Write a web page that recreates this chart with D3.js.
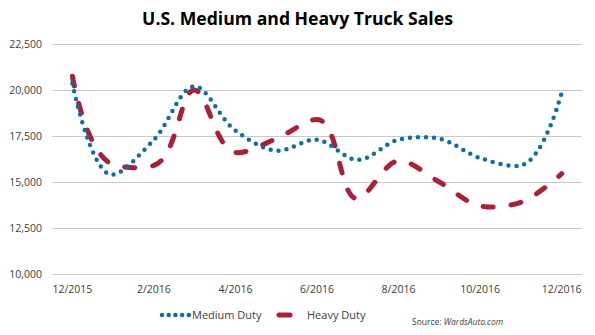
<!DOCTYPE html>
<html>
<head>
<meta charset="utf-8">
<script src="https://cdn.jsdelivr.net/npm/d3@7"></script>
<style>
  html, body { margin: 0; padding: 0; background: #fff; }
  svg { display: block; font-family: "Open Sans", "Liberation Sans", sans-serif; }
</style>
</head>
<body>
<svg id="chart" width="595" height="335"></svg>
<script>
// Monthly unit sales, 12/2015 through 12/2016
const months = ["12/2015", "1/2016", "2/2016", "3/2016", "4/2016", "5/2016", "6/2016",
                "7/2016", "8/2016", "9/2016", "10/2016", "11/2016", "12/2016"];
const mediumDuty = [20350, 15400, 17300, 20200, 17800, 16700, 17300,
                    16200, 17300, 17350, 16300, 15900, 19850];
const heavyDuty  = [20750, 15950, 15900, 20000, 16600, 17350, 18400,
                    14100, 16150, 15000, 13700, 13900, 15450];
const xTickLabels = ["12/2015", "2/2016", "4/2016", "6/2016", "8/2016", "10/2016", "12/2016"];
const yTicks = [10000, 12500, 15000, 17500, 20000, 22500];

const svg = d3.select("#chart");
const plot = { left: 52, right: 582, top: 44, bottom: 274 };

const x = d3.scaleBand().domain(months).range([plot.left, plot.right]);
const cx = m => x(m) + x.bandwidth() / 2;
const y = d3.scaleLinear().domain([10000, 22500]).range([plot.bottom, plot.top]);

// Title, sized to span its measured width
const title = svg.append("text")
  .attr("x", 297.5).attr("y", 25)
  .attr("text-anchor", "middle")
  .attr("font-weight", "bold")
  .attr("font-size", 20)
  .attr("fill", "#000")
  .text("U.S. Medium and Heavy Truck Sales");
const tw = title.node().getComputedTextLength();
title.attr("font-size", 20 * 311 / tw);

// Horizontal gridlines and y-axis labels
const yAxis = d3.axisLeft(y)
  .tickValues(yTicks)
  .tickSize(-(plot.right - plot.left))
  .tickPadding(10)
  .tickFormat(d3.format(","));
const gy = svg.append("g").attr("transform", `translate(${plot.left},0)`).call(yAxis);
gy.select(".domain").remove();
gy.selectAll(".tick line").attr("stroke", "#c9c9c9").attr("stroke-width", 1);
gy.selectAll(".tick text")
  .attr("fill", "#404040")
  .attr("font-size", 10.5)
  .attr("font-family", "'Open Sans', sans-serif");

// Category axis labels (every other month)
const xAxis = d3.axisBottom(x)
  .tickValues(xTickLabels)
  .tickSize(0)
  .tickPadding(12);
const gx = svg.append("g").attr("transform", `translate(0,${plot.bottom})`).call(xAxis);
gx.select(".domain").remove();
gx.selectAll(".tick text")
  .attr("fill", "#404040")
  .attr("font-size", 10.5)
  .attr("font-family", "'Open Sans', sans-serif");

const blue = "#0b6fa4";
const red = "#ad1f36";

// Chordal Catmull-Rom keeps the smoothing tight on flat stretches
const line = d3.line()
  .x((d, i) => cx(months[i]))
  .y(d => y(d))
  .curve(d3.curveCatmullRom.alpha(1));

// Heavy duty: long dashes
svg.append("path")
  .datum(heavyDuty)
  .attr("d", line)
  .attr("fill", "none")
  .attr("stroke", red)
  .attr("stroke-width", 5)
  .attr("stroke-linecap", "round")
  .attr("stroke-dasharray", "10,18");

// Medium duty: round dots
svg.append("path")
  .datum(mediumDuty)
  .attr("d", line)
  .attr("fill", "none")
  .attr("stroke", blue)
  .attr("stroke-width", 4.5)
  .attr("stroke-linecap", "round")
  .attr("stroke-dasharray", "0,8");

// Legend
const legY = 315;
svg.append("line")
  .attr("x1", 162).attr("x2", 189).attr("y1", legY).attr("y2", legY)
  .attr("stroke", blue).attr("stroke-width", 4.5)
  .attr("stroke-linecap", "round").attr("stroke-dasharray", "0,6.7");
svg.append("text")
  .attr("x", 192).attr("y", legY + 4)
  .attr("font-size", 11).attr("fill", "#404040")
  .text("Medium Duty");
svg.append("line")
  .attr("x1", 279).attr("x2", 290).attr("y1", legY).attr("y2", legY)
  .attr("stroke", red).attr("stroke-width", 5)
  .attr("stroke-linecap", "round");
svg.append("text")
  .attr("x", 307).attr("y", legY + 4)
  .attr("font-size", 11).attr("fill", "#404040")
  .text("Heavy Duty");

// Source note
const src = svg.append("text")
  .attr("x", 412).attr("y", 325)
  .attr("font-size", 8.5).attr("fill", "#404040");
src.append("tspan").text("Source: ");
src.append("tspan").attr("font-style", "italic").text("WardsAuto.com");
</script>
</body>
</html>
